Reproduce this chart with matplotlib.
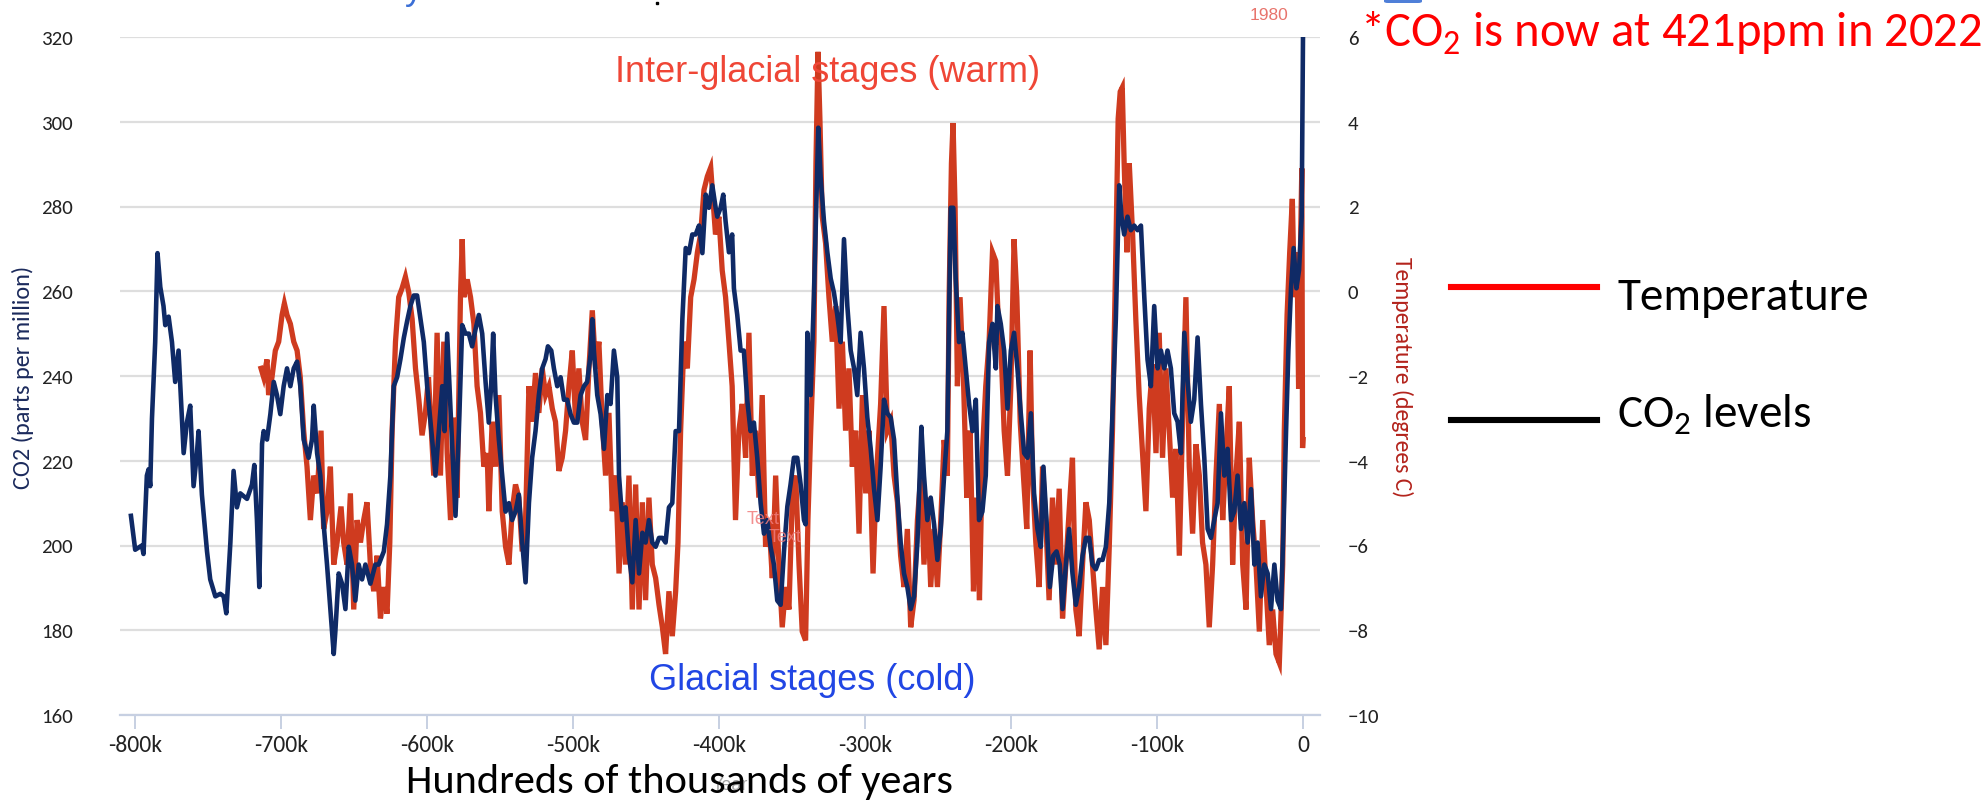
import matplotlib
matplotlib.use("Agg")
import matplotlib.pyplot as plt
from matplotlib import font_manager
from matplotlib.lines import Line2D
from matplotlib.patches import FancyBboxPatch
from matplotlib.ticker import FixedLocator, FuncFormatter

_avail = {f.name for f in font_manager.fontManager.ttflist}
def pick(*names):
    return [n for n in names if n in _avail] + ["DejaVu Sans"]

CAL = pick("Carlito", "Lato", "Open Sans")
ARI = pick("Liberation Sans", "Arial")
plt.rcParams["mathtext.fontset"] = "custom"
plt.rcParams["mathtext.rm"] = CAL[0]

# ---------------- data (thousands of years, ppm / degrees C) ----------------
co2_kyr = [-802.8, -801.0, -799.9, -795.3, -794.2, -791.9, -790.7, -789.6, -788.4, -786.2,
           -784.6, -782.7, -780.5, -779.3, -777.0, -774.7, -772.5, -770.2, -769.0, -766.7,
           -764.5, -762.2, -759.9, -757.6, -756.5, -754.2, -750.7, -748.5, -745.0, -741.6,
           -739.3, -737.5, -734.7, -732.5, -730.2, -727.9, -723.3, -719.9, -718.3, -716.5,
           -714.9, -713.0, -711.9, -709.6, -707.3, -705.0, -702.8, -700.5, -698.2, -695.9,
           -693.6, -691.3, -689.0, -686.8, -684.5, -681.1, -678.8, -677.6, -675.3, -673.1,
           -670.8, -668.5, -666.2, -663.9, -662.8, -660.5, -658.2, -655.9, -653.6, -651.4,
           -649.1, -646.8, -644.5, -642.2, -638.8, -635.4, -633.1, -629.6, -627.4, -625.1,
           -622.8, -620.5, -618.2, -615.9, -613.6, -611.4, -609.1, -606.8,
           -602.2, -599.9, -597.6, -594.2, -591.9, -589.6, -588.0, -586.2, -583.9, -580.5,
           -578.2, -575.9, -573.7, -571.4, -569.1, -566.8, -564.5, -562.2, -559.9, -557.7,
           -556.1, -554.7, -553.1, -550.8, -548.5, -546.2, -543.9, -541.7, -539.4, -537.1,
           -534.8, -532.5, -530.2, -528.0, -525.7, -523.4, -521.1, -518.8, -517.2, -514.9,
           -513.1, -510.8, -508.5, -506.2, -504.0, -501.7, -499.4, -497.1, -494.8, -492.5,
           -490.3, -488.0, -486.8, -485.7, -483.4, -481.1, -478.8, -476.5, -474.3, -472.0,
           -469.7, -468.5, -466.3, -464.0, -461.7, -459.4, -457.1, -454.8, -452.5, -450.3,
           -448.0, -445.7, -443.4, -441.1, -438.8, -436.6, -434.3, -432.0, -429.7, -427.4,
           -425.1, -422.8, -420.6, -418.3, -416.0, -413.7, -411.4, -409.1, -406.9, -404.6,
           -402.3,
           -401.2, -398.9, -397.1, -395.5, -393.2, -391.0, -389.8, -387.5, -385.2, -383.0,
           -380.7, -378.4, -376.1, -373.8, -371.5, -369.2, -367.0, -364.7, -362.4, -360.1,
           -357.8, -355.5, -353.2, -351.0, -348.7, -346.4, -344.1, -341.8, -340.7, -339.5,
           -337.2, -335.0, -333.1, -332.0, -330.4, -328.1, -325.8, -323.5, -321.3, -319.0,
           -316.7, -314.4, -312.1, -309.8, -307.5, -305.3, -303.0, -300.7, -298.4, -296.1,
           -293.8, -291.5, -289.3, -287.0, -284.7, -282.4, -280.1, -277.8, -275.6, -273.3,
           -271.0, -268.7, -266.4, -264.1, -261.4, -259.6, -257.3, -255.0, -252.7, -250.4,
           -248.1, -245.8, -243.6, -241.3, -239.5, -237.9, -235.6, -233.3, -231.0, -228.7,
           -226.4, -224.1, -221.9, -219.6, -217.3, -215.0, -212.7, -210.4, -209.3,
           -207.0, -204.7, -202.4, -200.1, -197.9, -195.6, -193.3, -191.0, -188.7, -186.4,
           -184.2, -181.9, -179.6, -177.8, -175.7, -173.4, -171.1, -168.8, -166.6, -164.7,
           -162.4, -160.2, -157.9, -155.6, -153.3, -151.0, -148.7, -146.4, -144.2, -141.9,
           -139.6, -137.3, -135.0, -132.7, -130.5, -128.2, -125.9, -124.3, -122.5, -120.2,
           -117.9, -115.6, -113.3, -111.0, -108.7, -106.5, -104.2, -101.9, -99.6, -97.3,
           -95.0, -92.8, -90.5, -88.2, -85.9, -83.6, -81.3, -79.0, -76.8, -74.5,
           -72.2, -69.9, -67.6, -65.3, -63.0, -60.8, -58.5, -56.2, -53.9, -51.6,
           -49.3, -47.1, -44.8, -42.5, -40.2, -37.9, -35.6, -33.3, -31.1, -28.8,
           -26.5, -24.2, -21.9, -19.6, -17.4, -15.1, -13.2, -11.6, -10.0, -8.2,
           -6.4, -4.5, -2.7, -1.8, -0.9, 0.0]
co2_ppm = [207, 202, 199, 200, 198, 216.5, 218, 214, 230, 248,
           269, 261, 256.5, 252, 254, 248, 238.6, 246, 237.6, 221.8,
           229, 233, 214, 221.8, 227, 212, 198.6, 192, 188, 188.6,
           188, 184, 200.7, 217.6, 209, 212.3, 211, 214.4, 219, 206,
           190.2, 224, 227, 225, 231, 238.6, 235.5, 231, 237.6, 241.8,
           237.6, 241.8, 243.4, 237.6, 225, 220.7, 225, 233, 221.8, 216.5,
           205, 195.5, 185, 174.4, 179.7, 193.4, 191, 185, 199.7, 195.5,
           187, 195.5, 192, 195.5, 191, 195.5, 195.5, 198.6, 205, 216.5,
           237.6, 239.7, 244, 249, 253, 256.5, 259, 259,
           248, 237.6, 229, 216.5, 227, 237.6, 227, 250, 232, 207,
           227, 252, 250, 250, 247, 251, 254.4, 250, 238.6, 229,
           237.6, 250, 235.5, 225, 216.5, 208, 210, 206, 208, 212,
           200.7, 191.3, 210, 220.7, 227, 235.5, 241.8, 244, 247, 246,
           241.8, 237.6, 239.7, 234.4, 234.4, 231, 229, 229, 235.5, 237.6,
           238.6, 245, 253.4, 246, 235.5, 231, 222.8, 235.5, 233.4, 246,
           239.7, 216.5, 206, 209, 197.6, 191.3, 206, 193.4, 203, 200.7,
           206, 200.7, 199.7, 201.8, 201.8, 200.7, 209, 210, 227, 227,
           253.4, 270.2, 269, 273.4, 273.4, 275.5, 269, 282.8, 279.7, 285,
           279.7,
           277.6, 279.7, 282.8, 276.5, 269.2, 273.4, 260.7, 254.4, 246, 246,
           234.4, 227, 229, 220.7, 210, 202.8, 206, 199.7, 195.5, 187,
           186, 198.6, 209.2, 214.4, 220.7, 220.7, 214.4, 206, 205, 250.2,
           235.5, 258.6, 283.9, 298.6, 287, 276.5, 269.2, 263, 259.7, 254.4,
           248, 272.3, 256.5, 246, 241.8, 235.5, 250.2, 241.8, 230.2, 222.8,
           213.3, 206, 218.6, 234.4, 231.2, 230.2, 225, 211.3, 200.7, 193.4,
           190.2, 185, 188, 200.7, 228, 216.5, 206, 211.3, 205, 196.6,
           204, 216.5, 227, 279.7, 279.7, 263, 248, 250.2, 241.8, 233.4,
           227, 234.4, 206, 208, 216.5, 248, 252.3, 241.8, 256.5,
           252.3, 246, 232.3, 246, 250.2, 241.8, 231.2, 221.8, 220.7, 231.2,
           212.3, 203.9, 199.7, 218.6, 206, 190.2, 197.6, 198.6, 195.5, 185,
           195.5, 203.9, 193.4, 186, 190.2, 197.6, 201.8, 201.8, 195.5, 194.4,
           196.6, 196.6, 199.7, 210, 231.2, 253.4, 285, 277.6, 273.4, 277.6,
           274.4, 275.5, 274.4, 275.5, 258.6, 243.9, 237.6, 256.5, 241.8, 246,
           241.8, 246, 241.8, 231.2, 229.2, 221.8, 250.2, 238.6, 229.2, 234.4,
           249.1, 233.4, 220.7, 203.9, 201.8, 206, 210, 231.2, 216.5, 222.8,
           206, 208, 216.5, 203.9, 210, 200.7, 213.3, 195.5, 200.7, 188,
           195.5, 193.4, 185, 195.5, 187, 185, 206, 227, 246, 260.7,
           270.2, 260.7, 265, 271.3, 277.6, 320]

temp_kyr = [-713.7, -711.9, -709.6, -708.5, -706.2, -703.9, -701.6, -699.3, -697.7, -695.9,
            -693.6, -691.3, -689.0, -686.8, -684.5, -682.2, -679.9, -677.6, -675.3, -672.6,
            -670.8, -668.5, -666.2, -663.9, -661.6, -658.9, -657.1, -654.8, -652.5, -650.2,
            -647.9, -645.6, -643.4, -641.1, -638.8, -636.5, -634.2, -631.9, -629.6, -627.4,
            -625.5, -623.9, -621.6, -619.4, -617.1, -614.8, -612.5, -610.2, -607.9, -605.6,
            -603.4, -601.1, -599.0,
            -595.4, -593.1, -590.8, -588.5, -586.2, -583.9, -581.7, -579.4, -577.1, -575.9,
            -574.8, -572.5, -570.2, -567.9, -565.7, -563.4, -561.1, -558.8, -557.7, -555.4,
            -553.1, -550.8, -548.5, -546.2, -543.9, -541.7, -539.4, -537.1, -534.8, -532.5,
            -530.2, -528.0, -525.7, -523.4, -521.1, -518.8, -516.5, -514.2, -512.0, -509.7,
            -507.4, -505.1, -502.8, -500.5, -498.2, -496.0, -493.7, -491.4, -489.1, -486.8,
            -484.5, -482.3, -480.0, -477.7, -475.4, -473.1, -470.8, -468.5, -466.3, -464.0,
            -461.7, -459.4, -457.1, -454.8, -452.5, -450.3, -448.0, -445.7, -443.4, -441.1,
            -438.8, -436.6, -434.3, -432.0, -429.7, -428.1, -426.3, -424.0, -421.7, -419.4,
            -417.1, -414.8, -412.6, -410.3, -408.0, -405.7,
            -402.4, -400.1, -397.8, -395.5, -393.2, -391.0, -388.7, -386.4, -384.1, -381.8,
            -379.5, -377.2, -375.0, -372.7, -370.4, -368.1, -365.8, -363.5, -361.2, -359.0,
            -356.7, -354.4, -352.1, -349.8, -347.5, -345.2, -343.0, -340.7, -339.1, -337.2,
            -335.0, -333.6, -332.2, -330.9, -329.3, -327.0, -324.7, -322.4, -320.1, -317.8,
            -315.5, -313.3, -311.0, -308.7, -306.4, -304.1, -301.8, -299.5, -297.3, -294.5,
            -292.2, -289.3, -287.0, -284.7, -282.4, -280.1, -277.8, -275.6, -273.3, -271.0,
            -268.7, -266.4, -264.1, -261.8, -259.6, -257.3, -255.0, -252.7, -250.4, -248.1,
            -245.8, -243.6, -242.4, -240.8, -239.7, -238.3, -236.7, -234.9, -232.6, -230.3,
            -228.0, -225.7, -223.5, -221.6, -219.6, -217.3, -215.0, -212.7, -210.4, -208.1,
            -207.0, -204.7, -202.4, -200.1, -197.9, -196.0, -193.7, -191.5, -189.2, -186.9,
            -185.3, -183.0, -180.7, -178.4, -176.2, -173.9, -171.6, -169.3, -167.0, -164.7,
            -162.4, -160.2, -157.9, -155.6, -153.3, -151.0, -148.7, -146.4, -144.2, -141.9,
            -139.6, -137.3, -135.0, -132.7, -130.5, -128.2, -126.6, -125.2, -123.8, -122.5,
            -120.6, -119.0, -116.7, -114.5, -112.2, -109.9, -107.6, -105.3, -103.0, -100.7,
            -98.5, -96.2, -93.9, -91.6, -89.3, -87.0, -84.7, -82.5, -80.2, -77.9,
            -75.6, -73.3, -71.0, -68.8, -66.5, -64.2, -61.9, -59.6, -57.3, -55.0,
            -52.8, -50.5, -48.2, -45.9, -43.6, -41.3, -39.0, -36.8, -34.5, -32.2,
            -29.9, -27.6, -25.3, -23.1, -20.8, -18.5, -16.2, -13.9, -12.8, -10.9,
            -9.1, -7.3, -5.9, -4.1, -3.0, -1.5, -0.8, -0.3, 0.0]
temp_c = [-1.82, -2.03, -1.61, -2.45, -2.03, -1.40, -1.19, -0.56, -0.29, -0.56,
          -0.77, -1.19, -1.40, -2.03, -3.29, -4.14, -5.40, -4.35, -4.77, -3.29,
          -5.61, -5.19, -4.14, -6.45, -5.93, -5.08, -5.93, -6.45, -4.77, -7.51,
          -5.40, -5.93, -5.40, -4.98, -6.45, -7.08, -6.24, -7.72, -6.98, -7.61,
          -5.93, -3.29, -1.19, -0.14, 0.07, 0.34, -0.03, -0.66, -1.82, -2.56,
          -3.40, -2.87, -2.03,
          -4.35, -0.98, -4.35, -1.19, -3.82, -5.40, -2.98, -4.87, -0.14, 1.23,
          -0.14, 0.28, -0.14, -0.77, -2.24, -2.87, -4.14, -3.82, -5.19, -3.08,
          -4.14, -2.45, -5.19, -6.03, -6.45, -5.19, -4.56, -4.87, -6.14, -5.40,
          -2.24, -3.08, -1.93, -2.87, -1.82, -2.45, -2.24, -2.77, -3.08, -4.24,
          -3.93, -3.29, -2.24, -1.40, -3.08, -1.82, -3.08, -3.51, -1.82, -0.45,
          -1.82, -1.19, -3.08, -4.35, -2.87, -5.19, -4.35, -6.66, -4.98, -6.45,
          -4.35, -7.51, -4.56, -7.51, -4.98, -7.29, -4.87, -6.45, -6.77, -7.40,
          -7.93, -8.56, -7.08, -8.14, -7.08, -5.93, -3.29, -1.19, -1.82, -0.14,
          0.28, 0.92, 1.34, 2.39, 2.71, 2.92,
          1.34, 1.76, 0.49, -0.14, -1.19, -2.24, -5.40, -3.29, -2.66, -3.93,
          -0.98, -4.35, -3.29, -4.87, -2.45, -6.03, -5.40, -6.77, -4.35, -6.45,
          -7.93, -6.98, -7.51, -4.87, -4.35, -6.45, -8.03, -8.24, -5.40, -3.29,
          -1.19, 3.02, 5.65, 4.07, 1.76, 1.13, -0.14, -1.19, -0.35, -2.77,
          -1.19, -3.29, -1.82, -4.14, -3.29, -5.72, -2.45, -4.77, -3.29, -6.66,
          -4.35, -2.66, -0.35, -3.29, -3.08, -4.35, -4.98, -6.24, -6.98, -5.61,
          -7.93, -7.29, -5.40, -4.35, -6.45, -4.87, -6.98, -5.61, -6.98, -5.40,
          -3.51, -4.35, -0.14, 3.02, 3.97, 1.97, -2.24, -0.14, -2.03, -4.87,
          -3.29, -7.08, -4.87, -7.29, -3.82, -2.24, -1.19, 0.92, 0.71, -1.19,
          -1.19, -3.29, -4.35, -2.24, 1.23, -0.14, -3.08, -4.35, -5.61, -1.40,
          -4.35, -5.93, -6.98, -4.14, -5.40, -7.29, -4.87, -6.45, -4.66, -7.72,
          -6.45, -5.19, -3.93, -7.51, -8.14, -6.45, -4.98, -5.40, -6.45, -7.51,
          -8.45, -6.98, -8.35, -6.03, -3.29, 0.92, 4.07, 4.71, 4.81, 3.02,
          0.92, 3.02, 1.34, -0.66, -2.45, -3.82, -5.19, -2.77, -1.72, -3.82,
          -0.98, -3.93, -1.82, -3.29, -4.87, -3.72, -6.24, -3.08, -0.14, -4.14,
          -5.72, -3.61, -4.35, -5.93, -6.45, -7.93, -6.45, -4.35, -2.66, -5.40,
          -3.82, -2.24, -6.45, -4.35, -3.08, -6.45, -7.51, -3.93, -5.40, -6.45,
          -8.03, -5.40, -6.98, -8.35, -7.51, -8.56, -8.77, -6.45, -3.29, -0.56,
          0.92, 2.18, -0.14, 0.92, -2.3, 1.5, 2.9, -3.7, -3.5]

x_ticks = [-800, -700, -600, -500, -400, -300, -200, -100, 0]
co2_ticks = [160, 180, 200, 220, 240, 260, 280, 300, 320]
temp_ticks = [-10, -8, -6, -4, -2, 0, 2, 4, 6]

# ---------------- figure ----------------
W, H = 1984, 803
fig = plt.figure(figsize=(W / 100, H / 100), dpi=100)
fig.patch.set_facecolor("white")

def fx(px):
    return px / W

def fy(py):
    return 1 - py / H

ax = fig.add_axes([fx(120), fy(716), fx(1200), 678 / H])
ax.set_xlim(-810.3, 11.65)
ax.set_ylim(160, 320)
ax.set_facecolor("white")
for s in ("top", "left", "right"):
    ax.spines[s].set_visible(False)
ax.spines["bottom"].set_color("#c7d0e2")
ax.spines["bottom"].set_linewidth(1.6)
ax.yaxis.set_major_locator(FixedLocator(co2_ticks))
ax.xaxis.set_major_locator(FixedLocator(x_ticks))
ax.xaxis.set_major_formatter(FuncFormatter(lambda v, p: "0" if v == 0 else f"{int(v)}k"))
ax.grid(axis="y", color="#dedede", linewidth=1.6)
ax.set_axisbelow(True)
ax.tick_params(axis="x", direction="out", length=10, width=1.4, color="#c7d0e2",
               labelsize=17, labelcolor="#222222", pad=4)
ax.tick_params(axis="y", length=0, labelsize=15, labelcolor="#222222", pad=34)
for lab in ax.get_xticklabels() + ax.get_yticklabels():
    lab.set_fontfamily(CAL)
ax.set_ylabel("CO2 (parts per million)", color="#1b2a5c", fontsize=17.5, family=CAL)
ax.yaxis.set_label_coords(-(120 - 34) / 1200, 0.5)

ax2 = ax.twinx()
ax2.set_ylim(-10, 6)
ax2.set_xlim(ax.get_xlim())
for s in ax2.spines.values():
    s.set_visible(False)
ax2.yaxis.set_major_locator(FixedLocator(temp_ticks))
ax2.tick_params(axis="y", length=0, labelsize=15, labelcolor="#222222", pad=20)
for lab in ax2.get_yticklabels():
    lab.set_fontfamily(CAL)
ax2.set_ylabel("Temperature (degrees C)", color="#b3231c", fontsize=17, family=CAL,
               rotation=270, va="center")
ax2.yaxis.set_label_coords((1402 - 120) / 1200, 0.5)
ax2.plot(temp_kyr, temp_c, color="#cf3b1f", linewidth=3.8, solid_joinstyle="miter",
         zorder=2)

ax3 = ax.twinx()
ax3.set_ylim(160, 320)
ax3.set_xlim(ax.get_xlim())
ax3.axis("off")
ax3.plot(co2_kyr, co2_ppm, color="#0f2a66", linewidth=3.3, zorder=3)

# annotations inside chart
ax3.text(-381, 206.3, "Text", color="#f07c7c", fontsize=13, family=ARI,
         va="center", ha="left", alpha=0.85)
ax3.text(-366, 202.2, "Text", color="#f07c7c", fontsize=13, family=ARI,
         va="center", ha="left", alpha=0.85)

fig.text(fx(1269), fy(16), "1980", color="#e8746c", fontsize=12.5, family=ARI,
         ha="center", va="center")
fig.text(fx(828), fy(72), "Inter-glacial stages (warm)", color="#ef4636",
         fontsize=26, family=ARI, ha="center", va="center")
fig.text(fx(812), fy(681), "Glacial stages (cold)", color="#2146e4",
         fontsize=26, family=ARI, ha="center", va="center")

fig.text(fx(730), fy(786), "Year", color="#8a8a8a", fontsize=13, family=ARI,
         ha="center", va="center", alpha=0.8)
fig.text(fx(679), fy(782), "Hundreds of thousands of years", color="black",
         fontsize=30.5, family=CAL, ha="center", va="center")

fig.text(fx(1982), fy(47), r"*CO$_{\mathrm{2}}$ is now at 421ppm in 2022",
         color="#ff0000", fontsize=35, family=CAL, ha="right", va="baseline")

# cropped fragments at the very top edge of the screenshot
fig.text(fx(414), fy(-1), "y", color="#3b6fd6", fontsize=26, family=ARI,
         ha="center", va="baseline")
fig.add_artist(Line2D([fx(657)], [fy(4)], marker="s", markersize=2.0,
                      color="black", linestyle="none", transform=fig.transFigure))
fig.add_artist(FancyBboxPatch((fx(1384), fy(4)), fx(38), 6 / H,
                              boxstyle="round,pad=0,rounding_size=0.002",
                              facecolor="#4f7fd8", edgecolor="none",
                              transform=fig.transFigure))

# legend
fig.add_artist(Line2D([fx(1451), fx(1597)], [fy(288), fy(288)], color="#ff0000",
                      linewidth=4.4, transform=fig.transFigure))
fig.add_artist(Line2D([fx(1451), fx(1597)], [fy(421), fy(421)], color="black",
                      linewidth=4.4, transform=fig.transFigure))
fig.text(fx(1617), fy(310), "Temperature", color="black", fontsize=34,
         family=CAL, ha="left", va="baseline")
fig.text(fx(1617), fy(428), r"CO$_{\mathrm{2}}$ levels", color="black", fontsize=34,
         family=CAL, ha="left", va="baseline")

fig.savefig("out.png", dpi=100, facecolor="white")
